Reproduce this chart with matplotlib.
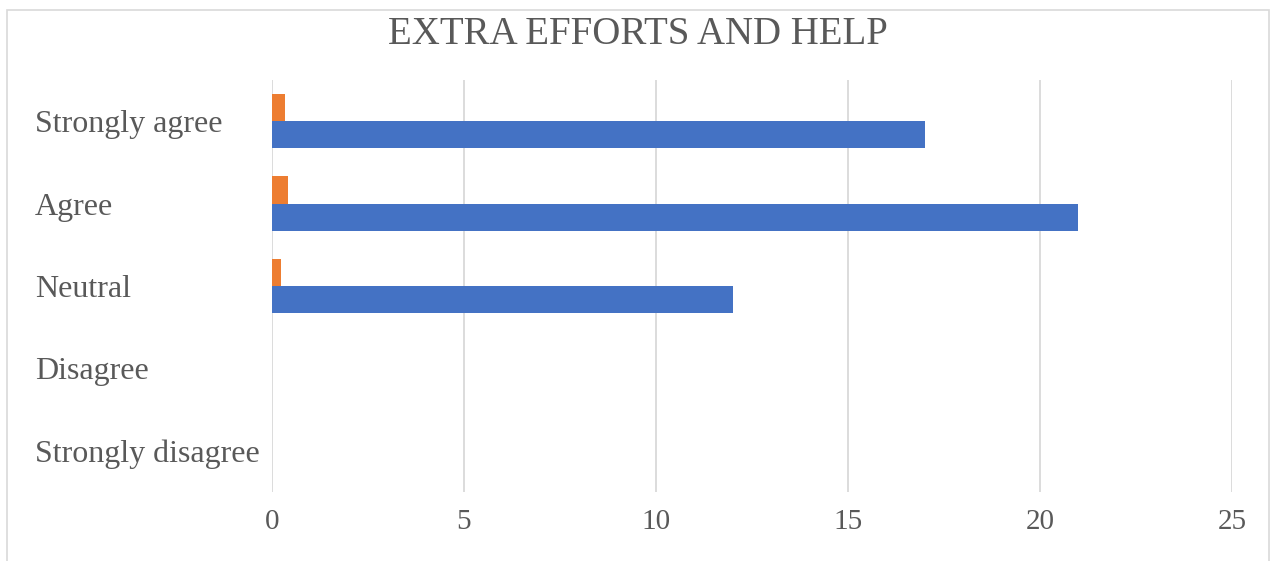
import numpy as np
import matplotlib.pyplot as plt
from matplotlib.patches import Rectangle

plt.rcParams['font.family'] = ['Liberation Serif', 'DejaVu Serif']

categorii = ['Strongly disagree', 'Disagree', 'Neutral', 'Agree', 'Strongly agree']
frecventa = [0, 0, 12, 21, 17]
procent = [0, 0, 0.24, 0.42, 0.34]

W, H = 1271, 561
fig = plt.figure(figsize=(W / 100, H / 100), dpi=100)
ax = fig.add_axes([272 / W, 1 - 492 / H, (1232 - 272) / W, (492 - 80) / H])

y = np.arange(len(categorii))
h = 0.33
ax.barh(y - h / 2, frecventa, height=h, color='#4472C4')
ax.barh(y + h / 2, procent, height=h, color='#ED7D31')

ax.set_xlim(0, 25)
ax.set_ylim(-0.5, len(categorii) - 0.5)
ax.set_xticks(range(0, 26, 5))
ax.set_yticks(y)
ax.set_yticklabels(categorii, ha='left', va='center_baseline')
ax.xaxis.grid(True, color='#D9D9D9', linewidth=1.3)
ax.set_axisbelow(True)
for s in ax.spines.values():
    s.set_visible(False)
ax.tick_params(axis='both', length=0, colors='#595959')
ax.tick_params(axis='x', labelsize=21, pad=12)
# pad e in puncte: 237 px la 100 dpi
ax.tick_params(axis='y', labelsize=23, pad=237 * 72 / 100)

fig.text(638 / W, 1 - 35 / H, 'EXTRA EFFORTS AND HELP', ha='center', va='center',
         fontsize=28, color='#595959')

# chenarul graficului
fig.patches.append(Rectangle((7 / W, -0.05), (1269 - 7) / W, 1 - 10 / H + 0.05,
                             transform=fig.transFigure, fill=False,
                             edgecolor='#D9D9D9', linewidth=1.2))

fig.savefig('out.png', dpi=100)
